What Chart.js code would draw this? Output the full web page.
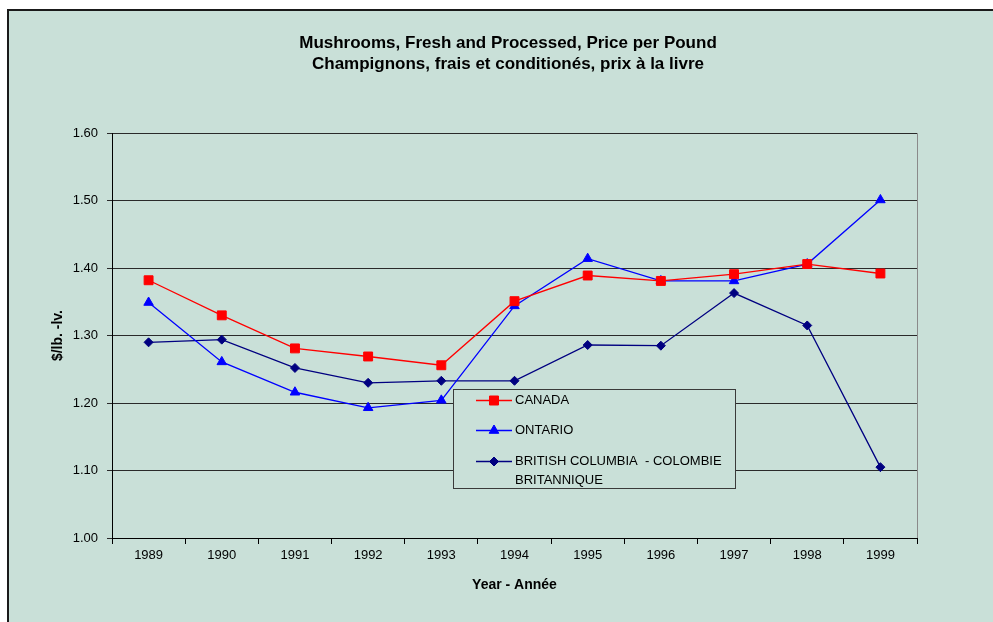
<!DOCTYPE html>
<html>
<head>
<meta charset="utf-8">
<script src="https://cdn.jsdelivr.net/npm/chart.js@4/dist/chart.umd.min.js"></script>
<style>
  html, body { margin: 0; padding: 0; background: #fff; overflow: hidden; }
  #frame {
    position: absolute; left: 7px; top: 9px;
    width: 990px; height: 613px;
    border-top: 2px solid #1a1a1a; border-left: 2px solid #1a1a1a;
    background: #c9e0d8;
  }
  #wrap { position: relative; width: 984px; height: 611px; }
</style>
</head>
<body>
<div id="frame"><div id="wrap"><canvas id="myChart"></canvas></div></div>
<script>
// data
var years = ['1989', '1990', '1991', '1992', '1993', '1994', '1995', '1996', '1997', '1998', '1999'];
var canada = [1.382, 1.330, 1.281, 1.269, 1.256, 1.351, 1.389, 1.381, 1.391, 1.406, 1.392];
var ontario = [1.349, 1.261, 1.216, 1.193, 1.204, 1.344, 1.414, 1.381, 1.381, 1.406, 1.501];
var britishColumbia = [1.290, 1.294, 1.252, 1.230, 1.233, 1.233, 1.286, 1.285, 1.363, 1.315, 1.105];
var seriesNames = [['CANADA'], ['ONTARIO'], ['BRITISH COLUMBIA  - COLOMBIE', 'BRITANNIQUE']];
var yTicks = [1.00, 1.10, 1.20, 1.30, 1.40, 1.50, 1.60];

var BG = '#c9e0d8';
var FONT = '"Liberation Sans", Arial, sans-serif';

function marker(ctx, style, x, y, color) {
    ctx.fillStyle = color;
    ctx.strokeStyle = color;
    ctx.lineWidth = 1;
    ctx.beginPath();
    if (style === 'rect') {
        ctx.rect(x - 4.5, y - 4.5, 9, 9);
    } else if (style === 'triangle') {
        ctx.moveTo(x, y - 5.5);
        ctx.lineTo(x + 4.8, y + 2.8);
        ctx.lineTo(x - 4.8, y + 2.8);
        ctx.closePath();
    } else {
        ctx.moveTo(x, y - 4.5);
        ctx.lineTo(x + 4.5, y);
        ctx.lineTo(x, y + 4.5);
        ctx.lineTo(x - 4.5, y);
        ctx.closePath();
    }
    ctx.fill();
    ctx.stroke();
}

// right edge of the plot + the boxed legend inside the plot
var plotDecor = {
    id: 'plotDecor',
    afterDatasetsDraw(chart) {
        var ctx = chart.ctx, a = chart.chartArea;
        ctx.save();
        ctx.strokeStyle = '#8a8a8a';
        ctx.lineWidth = 1;
        ctx.beginPath();
        ctx.moveTo(Math.round(a.right) + 0.5, a.top);
        ctx.lineTo(Math.round(a.right) + 0.5, a.bottom);
        ctx.stroke();

        var x = Math.round(a.left + a.width * 0.4236), y = Math.round(a.top + a.height * 0.632);
        var w = 282, h = 99;
        ctx.fillStyle = BG;
        ctx.fillRect(x, y, w, h);
        ctx.strokeStyle = '#3a3a3a';
        ctx.strokeRect(x + 0.5, y + 0.5, w, h);

        var rows = [11, 41, 72];
        ctx.font = '13px ' + FONT;
        ctx.textBaseline = 'middle';
        ctx.textAlign = 'left';
        chart.data.datasets.forEach(function (ds, i) {
            var ry = y + rows[i];
            ctx.strokeStyle = ds.borderColor;
            ctx.lineWidth = 1.3;
            ctx.beginPath();
            ctx.moveTo(x + 23, ry + 0.5);
            ctx.lineTo(x + 59, ry + 0.5);
            ctx.stroke();
            marker(ctx, ds.pointStyle, x + 41, ry + 0.5, ds.borderColor);
            ctx.fillStyle = '#000';
            seriesNames[i].forEach(function (line, j) {
                ctx.fillText(line, x + 62, ry + j * 19);
            });
        });
        ctx.restore();
    }
};

var ctx = document.getElementById('myChart');

var myChart = new Chart(ctx, {
    type: 'line',
    data: {
        labels: years,
        datasets: [{
            label: 'CANADA',
            data: canada,
            borderColor: '#ff0000',
            backgroundColor: '#ff0000',
            pointStyle: 'rect',
            pointRadius: 6.3,
            pointBorderWidth: 1,
            borderWidth: 1.3
        }, {
            label: 'ONTARIO',
            data: ontario,
            borderColor: '#0000ff',
            backgroundColor: '#0000ff',
            pointStyle: 'triangle',
            pointRadius: 5.5,
            pointBorderWidth: 1,
            borderWidth: 1.3
        }, {
            label: 'BRITISH COLUMBIA - COLOMBIE BRITANNIQUE',
            data: britishColumbia,
            borderColor: '#000080',
            backgroundColor: '#000080',
            pointStyle: 'rectRot',
            pointRadius: 4.5,
            pointBorderWidth: 1,
            borderWidth: 1.3
        }]
    },
    options: {
        responsive: true,
        maintainAspectRatio: false,
        animation: false,
        layout: { padding: { left: 14, right: 0, top: 0, bottom: 0 } },
        plugins: {
            legend: { display: false },
            tooltip: { enabled: false },
            title: {
                display: true,
                text: ['Mushrooms, Fresh and Processed, Price per Pound', 'Champignons, frais et conditionés, prix à la livre'],
                color: '#000',
                font: { family: FONT, size: 17, weight: 'bold', lineHeight: 1.24 },
                padding: { top: 22, bottom: 58 }
            }
        },
        scales: {
            x: {
                offset: true,
                grid: {
                    offset: true,
                    drawOnChartArea: false,
                    drawTicks: true,
                    tickLength: 6,
                    color: '#000'
                },
                border: { color: '#000', width: 1 },
                ticks: {
                    color: '#000',
                    font: { family: FONT, size: 13 },
                    padding: 4,
                    maxRotation: 0
                },
                title: {
                    display: true,
                    text: 'Year - Année',
                    color: '#000',
                    font: { family: FONT, size: 14, weight: 'bold' },
                    padding: { top: 28, bottom: 28 }
                },
                afterFit(scale) { scale.height = 84; }
            },
            y: {
                min: 1.0,
                max: 1.6,
                afterBuildTicks(scale) {
                    scale.ticks = yTicks.map(function (v) { return { value: v }; });
                },
                grid: {
                    color: '#2a2a2a',
                    lineWidth: 1,
                    drawTicks: true,
                    tickLength: 5
                },
                border: { color: '#000', width: 1 },
                ticks: {
                    color: '#000',
                    font: { family: FONT, size: 13 },
                    padding: 9,
                    callback: function (v) { return Number(v).toFixed(2); }
                },
                title: {
                    display: true,
                    text: '$/lb. -lv.',
                    color: '#000',
                    font: { family: FONT, size: 14, weight: 'bold' },
                    padding: { top: 27, bottom: 27 }
                },
                afterFit(scale) { scale.width = 89; }
            },
            // empty right-hand axis: only reserves the white space right of the plot
            yRight: {
                position: 'right',
                display: true,
                grid: { display: false, drawTicks: false },
                border: { display: false },
                ticks: { display: false },
                afterFit(scale) { scale.width = 76; }
            }
        }
    },
    plugins: [plotDecor]
});
</script>
</body>
</html>
